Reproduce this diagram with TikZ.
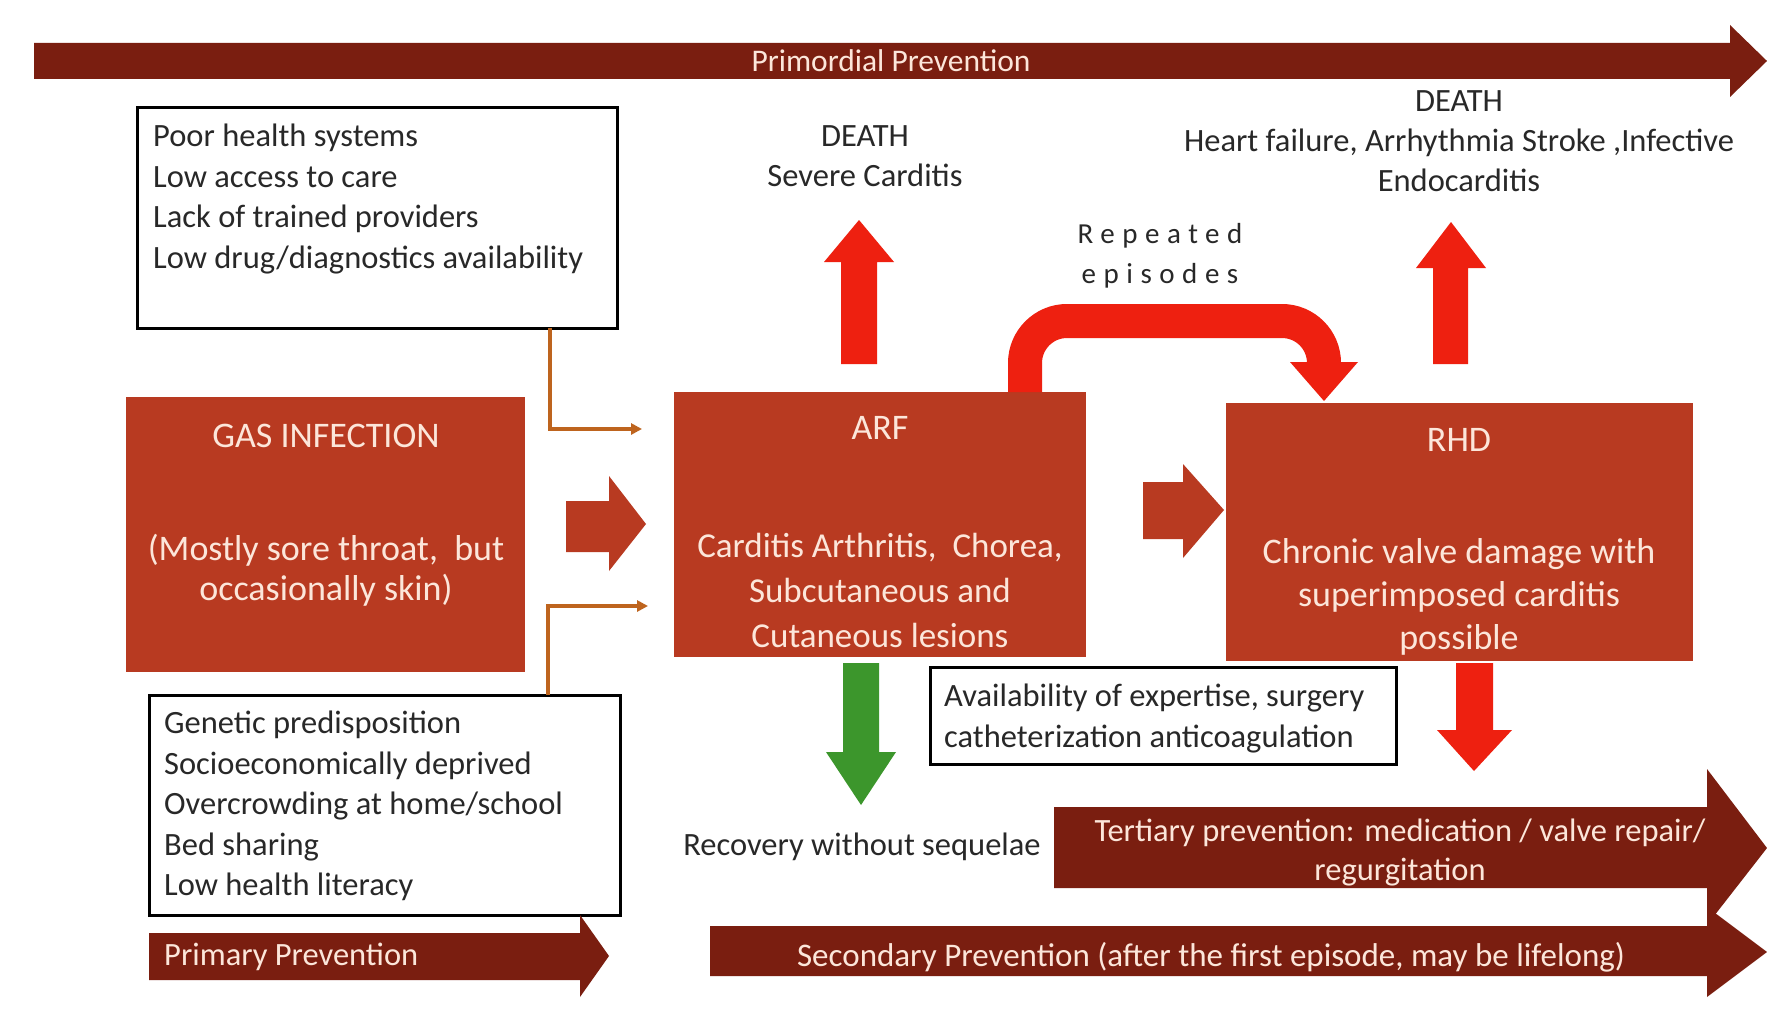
\documentclass[tikz,border=0pt]{standalone}
\usepackage{fontspec}
\setmainfont{Carlito}
\usetikzlibrary{arrows.meta,calc}
\definecolor{boxred}{RGB}{184,58,33}
\definecolor{maroon}{RGB}{122,30,16}
\definecolor{brightred}{RGB}{238,32,16}
\definecolor{grn}{RGB}{60,150,44}
\definecolor{orng}{RGB}{190,100,30}
\definecolor{peach}{RGB}{252,230,218}
\definecolor{txt}{RGB}{40,40,40}
\begin{document}
\begin{tikzpicture}[x=1pt,y=-1pt,
  infobox/.style={draw=black,line width=3,fill=white,inner sep=0},
  redbox/.style={fill=boxred,draw=none,inner sep=0},
  boxtext/.style={text=peach,font=\fontsize{36}{40.5}\selectfont,align=center,inner sep=0},
  blacktext/.style={text=txt,font=\fontsize{32.5}{40.5}\selectfont,align=left,inner sep=0},
  dtext/.style={text=txt,font=\fontsize{32.5}{40}\selectfont,align=center,inner sep=0},
  bartext/.style={text=peach,font=\fontsize{32.5}{39}\selectfont,align=center,inner sep=0},
  conn/.style={draw=orng,line width=3.5,-{Triangle[length=11,width=11]}}
]
\useasboundingbox (0,0) rectangle (1767,1022);
\fill[white] (0,0) rectangle (1767,1022);

% primordial bar
\fill[maroon] (34,43) -- (1730,43) -- (1730,25) -- (1767,61) -- (1730,97) -- (1730,79) -- (34,79) -- cycle;
\node[bartext,font=\fontsize{31.5}{36}\selectfont] (primordial) at (891,61) {Primordial Prevention};

% boxes
\node[infobox,minimum width=480,minimum height=220] (risk1) at (377,218) {};
\node[blacktext,anchor=north west] (risk1t) at (153,124) {Poor health systems\\Low access to care\\Lack of trained providers\\Low drug/diagnostics availability};

\node[redbox,minimum width=399,minimum height=275] (gas) at (325.5,534.5) {};
\node[boxtext] (gastitle) at (326,436) {GAS INFECTION};
\node[boxtext] (gasbody) at (326,570) {(Mostly sore throat,~ but\\occasionally skin)};

\node[redbox,minimum width=412,minimum height=265] (arf) at (880,524.5) {};
\node[boxtext] (arftitle) at (880,428) {ARF};
\node[boxtext,font=\fontsize{35}{45}\selectfont] (arfbody) at (880,590) {Carditis Arthritis,~ Chorea,\\Subcutaneous and\\Cutaneous lesions};

\node[redbox,minimum width=467,minimum height=258] (rhd) at (1459.5,532) {};
\node[boxtext] (rhdtitle) at (1459,440) {RHD};
\node[boxtext,font=\fontsize{36}{43}\selectfont] (rhdbody) at (1459,597) {Chronic valve damage with\\superimposed carditis\\possible};

\node[infobox,minimum width=471,minimum height=220] (risk2) at (384.5,805) {};
\node[blacktext,anchor=north west] (risk2t) at (164,711) {Genetic predisposition\\Socioeconomically deprived\\Overcrowding at home/school\\Bed sharing\\Low health literacy};

\node[infobox,minimum width=466,minimum height=97] (avail) at (1163,715.5) {};
\node[blacktext,anchor=north west] (availt) at (944,684) {Availability of expertise, surgery\\catheterization anticoagulation};

% orange connectors
\coordinate (c1) at (550,328);
\coordinate (c1e) at (642,429);
\draw[conn] (c1) |- (c1e);
\coordinate (c2) at (548,695);
\coordinate (c2e) at (648,606);
\draw[conn] (c2) |- (c2e);

% big block arrows
\fill[boxred] (566,501) -- (609,501) -- (609,476) -- (646,524) -- (609,571) -- (609,552) -- (566,552) -- cycle;
\fill[boxred] (1143,482) -- (1183,482) -- (1183,464) -- (1224,510) -- (1183,558) -- (1183,539) -- (1143,539) -- cycle;

% death texts
\node[dtext] (death1) at (865,156) {DEATH\\Severe Carditis};
\node[dtext] (death2) at (1459,141) {DEATH\\Heart failure, Arrhythmia Stroke ,Infective\\Endocarditis};

% red up arrows
\fill[brightred] (841,364) -- (841,262) -- (824,262) -- (859,220) -- (894,262) -- (877,262) -- (877,364) -- cycle;
\fill[brightred] (1433,364) -- (1433,268) -- (1416,268) -- (1451,222) -- (1486,268) -- (1468,268) -- (1468,364) -- cycle;

% repeated episodes
\node[text=txt,font=\fontsize{29}{40}\selectfont\addfontfeature{LetterSpace=26},align=center,inner sep=0] (rep) at (1160,256) {Repeated\\episodes};
\draw[brightred,line width=34,rounded corners=42] (1025,392) -- (1025,321) -- (1324,321) -- (1324,363);
\fill[brightred] (1290,362) -- (1358,362) -- (1324,401) -- cycle;

% green down arrow
\fill[grn] (843,663) -- (879,663) -- (879,752) -- (896,752) -- (861,805) -- (826,752) -- (843,752) -- cycle;
% red down arrow
\fill[brightred] (1456,663) -- (1493,663) -- (1493,730) -- (1512,730) -- (1474,771) -- (1437,730) -- (1456,730) -- cycle;

\node[dtext] (recov) at (862,847) {Recovery without sequelae};

% tertiary
\fill[maroon] (1054,807) -- (1707,807) -- (1707,769) -- (1767,848) -- (1707,925) -- (1707,888) -- (1054,888) -- cycle;
\node[bartext] (tert) at (1400,853) {Tertiary prevention: medication / valve repair/\\regurgitation};

% secondary
\fill[maroon] (710,926) -- (1707,926) -- (1707,907) -- (1767,952) -- (1707,997) -- (1707,976) -- (710,976) -- cycle;
\node[bartext,font=\fontsize{33}{39}\selectfont] (sec) at (1211,957) {Secondary Prevention (after the first episode, may be lifelong)};

% primary
\fill[maroon] (149,933) -- (580,933) -- (580,915) -- (609,956) -- (580,997) -- (580,980) -- (149,980) -- cycle;
\node[bartext,anchor=west] (prim) at (164,957) {Primary Prevention};
\end{tikzpicture}
\end{document}
